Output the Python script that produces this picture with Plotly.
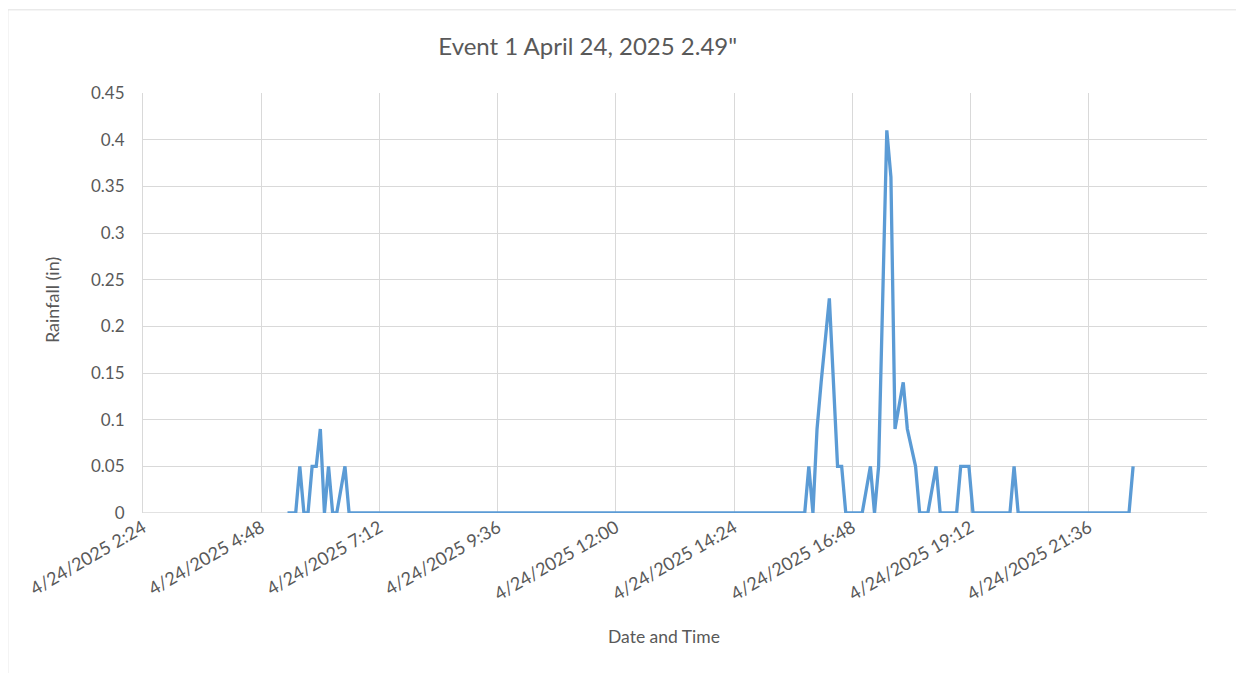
import plotly.graph_objects as go

# Data (vertices of the rainfall series, 4/24/2025)
times = [
    "2025-04-24 05:20", "2025-04-24 05:30", "2025-04-24 05:35", "2025-04-24 05:40",
    "2025-04-24 05:45", "2025-04-24 05:50", "2025-04-24 05:55", "2025-04-24 06:00",
    "2025-04-24 06:05", "2025-04-24 06:10", "2025-04-24 06:15", "2025-04-24 06:20",
    "2025-04-24 06:30", "2025-04-24 06:35",
    "2025-04-24 15:50", "2025-04-24 15:55", "2025-04-24 16:00", "2025-04-24 16:05",
    "2025-04-24 16:10", "2025-04-24 16:20", "2025-04-24 16:30", "2025-04-24 16:35",
    "2025-04-24 16:40", "2025-04-24 17:00", "2025-04-24 17:10", "2025-04-24 17:15",
    "2025-04-24 17:20", "2025-04-24 17:30", "2025-04-24 17:35", "2025-04-24 17:40",
    "2025-04-24 17:50", "2025-04-24 17:55", "2025-04-24 18:05", "2025-04-24 18:10",
    "2025-04-24 18:20", "2025-04-24 18:30", "2025-04-24 18:35", "2025-04-24 18:55",
    "2025-04-24 19:00", "2025-04-24 19:10", "2025-04-24 19:15", "2025-04-24 20:00",
    "2025-04-24 20:05", "2025-04-24 20:10", "2025-04-24 22:25", "2025-04-24 22:30",
]
rainfall = [
    0, 0, 0.05, 0,
    0, 0.05, 0.05, 0.09,
    0, 0.05, 0, 0,
    0.05, 0,
    0, 0.05, 0, 0.09,
    0.14, 0.23, 0.05, 0.05,
    0, 0, 0.05, 0,
    0.05, 0.41, 0.36, 0.09,
    0.14, 0.09, 0.05, 0,
    0, 0.05, 0, 0,
    0.05, 0.05, 0, 0,
    0.05, 0, 0, 0.05,
]

x_tick_vals = [
    "2025-04-24 02:24", "2025-04-24 04:48", "2025-04-24 07:12", "2025-04-24 09:36",
    "2025-04-24 12:00", "2025-04-24 14:24", "2025-04-24 16:48", "2025-04-24 19:12",
    "2025-04-24 21:36",
]
x_tick_text = [
    "4/24/2025 2:24", "4/24/2025 4:48", "4/24/2025 7:12", "4/24/2025 9:36",
    "4/24/2025 12:00", "4/24/2025 14:24", "4/24/2025 16:48", "4/24/2025 19:12",
    "4/24/2025 21:36",
]
y_tick_vals = [0, 0.05, 0.1, 0.15, 0.2, 0.25, 0.3, 0.35, 0.4, 0.45]
y_tick_text = ["0", "0.05", "0.1", "0.15", "0.2", "0.25", "0.3", "0.35", "0.4", "0.45"]

FONT = "Lato, 'Open Sans', sans-serif"
GRAY = "#595959"
GRID = "#d9d9d9"

fig = go.Figure()
fig.add_trace(go.Scatter(
    x=times, y=rainfall, mode="lines",
    line=dict(color="#5b9bd5", width=3.3),
    showlegend=False,
))

fig.update_layout(
    width=1244, height=673,
    paper_bgcolor="white", plot_bgcolor="white",
    margin=dict(l=135, r=45, t=85, b=168),
    font=dict(family=FONT, color=GRAY, size=16),
    title=dict(text='Event 1 April 24, 2025 2.49"', xref="paper", x=0.418,
               xanchor="center", y=0.942, yanchor="middle",
               font=dict(family=FONT, size=24, color=GRAY)),
    xaxis=dict(
        type="date",
        range=["2025-04-24 02:24", "2025-04-25 00:00"],
        tickvals=x_tick_vals, ticktext=x_tick_text,
        tickangle=-30,
        showgrid=True, gridcolor=GRID, gridwidth=1,
        showline=False, zeroline=False,
        tickfont=dict(size=18, color=GRAY),
    ),
    yaxis=dict(
        range=[0, 0.45],
        tickvals=y_tick_vals, ticktext=y_tick_text,
        showgrid=True, gridcolor=GRID, gridwidth=1,
        showline=True, linecolor=GRID, linewidth=1,
        zeroline=False,
        ticklabelstandoff=14,
        tickfont=dict(size=17, color=GRAY),
    ),
    annotations=[
        dict(text="Date and Time", xref="paper", yref="paper", x=0.4897, y=-0.295,
             xanchor="center", yanchor="middle", showarrow=False,
             font=dict(size=17.5, color=GRAY)),
        dict(text="Rainfall (in)", xref="paper", yref="paper", x=-0.0855, y=0.507,
             xanchor="center", yanchor="middle", textangle=-90, showarrow=False,
             font=dict(size=18, color=GRAY)),
    ],
    shapes=[
        dict(type="line", xref="paper", yref="y", x0=0, x1=1, y0=0, y1=0,
             line=dict(color=GRID, width=1.5), layer="below"),
        dict(type="line", xref="paper", yref="paper", x0=-0.127, x1=-0.127,
             y0=1.198, y1=-0.42, line=dict(color="#e0e0e0", width=1)),
        dict(type="line", xref="paper", yref="paper", x0=-0.127, x1=1.06,
             y0=1.198, y1=1.198, line=dict(color="#e0e0e0", width=1)),
    ],
)

fig.write_html("out.html")
